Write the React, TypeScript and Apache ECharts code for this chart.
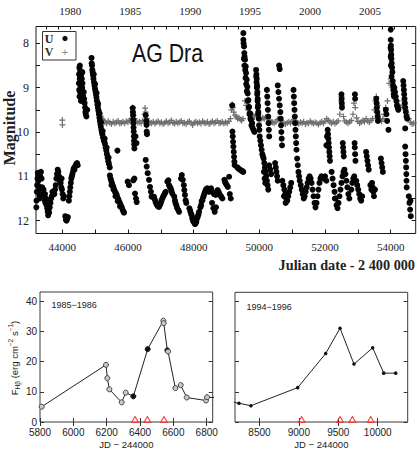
import { useEffect, useRef } from "react";
import * as echarts from "echarts";

// ---------- AG Dra light curve (Julian date - 2 400 000, magnitude) ----------

// U band, quiescence 1977-1980
const uQuiescence7780: number[][] = [
  [43210, 11.7], [43215, 11.55], [43225, 11.35], [43235, 11.2], [43245, 11.05], [43255, 10.92], [43265, 10.98],
  [43275, 11.1], [43285, 11.22], [43295, 11.3], [43305, 11.42], [43315, 11.5], [43330, 11.0], [43350, 10.9],
  [43370, 11.05], [43390, 11.25], [43405, 11.4], [43430, 11.3], [43450, 11.45], [43470, 11.55], [43475, 11.4],
  [43490, 11.6], [43505, 11.5], [43520, 11.65], [43530, 11.58], [43540, 11.72], [43555, 11.8], [43570, 11.88],
  [43585, 11.75], [43600, 11.82], [43620, 11.7], [43640, 11.6], [43660, 11.5], [43680, 11.45], [43700, 11.35],
  [43760, 11.4], [43780, 11.3], [43800, 11.2], [43820, 11.05], [43840, 10.95], [43860, 10.85], [43880, 10.9],
  [43900, 11.0], [43920, 11.1], [43950, 11.15], [43970, 11.25], [43980, 11.05], [43990, 11.3], [44010, 11.4],
  [44030, 11.5], [44050, 11.45], [44090, 11.9], [44110, 11.98], [44130, 12.0], [44150, 11.95], [44170, 11.92],
  [44200, 11.55], [44215, 11.45], [44230, 11.35], [44245, 11.25], [44260, 11.15], [44275, 11.05], [44290, 11.0],
  [44310, 10.95], [44330, 10.88], [44350, 10.82], [44370, 10.85], [44390, 10.78], [44410, 10.75], [44430, 10.72],
  [44450, 10.7], [44470, 10.75],
];

// U band, outbursts 1980-1981 and decline
const uOutbursts8081: number[][] = [
  [44505, 8.9], [44510, 8.7], [44515, 9.05], [44520, 8.55], [44525, 9.2], [44530, 8.8], [44535, 8.5],
  [44540, 9.1], [44545, 8.62], [44550, 8.95], [44555, 8.75], [44560, 9.2], [44565, 8.85], [44570, 9.3],
  [44575, 8.95], [44580, 8.7], [44585, 9.05], [44590, 9.25], [44595, 8.8], [44605, 9.0], [44610, 8.65],
  [44615, 8.9], [44620, 9.15], [44625, 9.1], [44635, 9.2], [44645, 9.3], [44655, 9.1], [44665, 9.25],
  [44680, 9.35], [44695, 9.45], [44705, 9.55], [44715, 9.6], [44725, 9.5], [44735, 9.65], [44760, 9.5],
  [44890, 8.33], [44895, 8.45], [44905, 8.5], [44915, 8.6], [44925, 8.65], [44935, 8.72], [44950, 8.8],
  [44960, 8.7], [44965, 8.88], [44980, 8.95], [44995, 9.02], [45000, 8.92], [45010, 9.08], [45025, 9.15],
  [45040, 9.22], [45045, 9.12], [45055, 9.3], [45070, 9.38], [45085, 9.45], [45090, 9.36], [45100, 9.52],
  [45115, 9.6], [45130, 9.68], [45135, 9.58], [45145, 9.75], [45160, 9.82], [45175, 9.88], [45180, 9.78],
  [45190, 9.95], [45205, 10.0], [45220, 10.05], [45230, 9.98], [45240, 10.12], [45260, 10.18], [45280, 10.22],
  [45290, 10.15], [45300, 10.27], [45320, 10.35], [45340, 10.42], [45350, 10.35], [45360, 10.5], [45380, 10.58],
  [45400, 10.66], [45410, 10.58], [45420, 10.72], [45445, 10.8], [45680, 10.42],
];

// U band, 1983-1987 (decline, 1985 and 1986 outbursts)
const uEpisode8387: number[][] = [
  [45450, 10.98], [45470, 11.05], [45490, 11.1], [45500, 11.2], [45510, 11.15], [45530, 11.2], [45555, 11.24],
  [45560, 11.3], [45580, 11.3], [45605, 11.35], [45620, 11.45], [45630, 11.38], [45657, 11.42], [45680, 11.48],
  [45690, 11.56], [45705, 11.52], [45730, 11.57], [45758, 11.61], [45760, 11.68], [45785, 11.66], [45810, 11.7],
  [45840, 11.76], [45865, 11.8], [45880, 11.82], [45990, 11.12], [46030, 11.2], [46163, 11.09], [46195, 11.05],
  [46215, 11.39], [46245, 11.5], [46265, 11.58],
  [46145, 9.46], [46150, 9.55], [46155, 9.62], [46160, 9.72], [46163, 9.8], [46170, 9.9], [46175, 9.99],
  [46180, 10.1], [46185, 10.2], [46190, 10.28], [46195, 10.37], [46230, 10.1], [46260, 10.25],
  [46540, 9.62], [46555, 9.75], [46565, 9.84], [46570, 9.99], [46580, 10.05],
  [46540, 10.63], [46570, 10.78], [46600, 10.93], [46640, 11.08], [46670, 11.24], [46700, 11.35], [46720, 11.46],
];

// U band, quiescence 1987-1993
const uQuiescence8793: number[][] = [
  [46790, 11.46], [46815, 11.52], [46840, 11.58], [46865, 11.62], [46890, 11.65], [46915, 11.68], [46945, 11.69],
  [46970, 11.65], [46995, 11.61], [47020, 11.55], [47045, 11.5], [47070, 11.46], [47100, 11.42], [47125, 11.38],
  [47150, 11.35], [47200, 11.12], [47230, 11.09], [47250, 11.2], [47275, 11.24], [47300, 11.27], [47325, 11.33],
  [47350, 11.39], [47410, 11.46], [47430, 11.55], [47450, 11.61], [47475, 11.66], [47500, 11.72], [47530, 11.76],
  [47555, 11.8], [47615, 11.05], [47640, 10.97], [47670, 11.08], [47700, 11.2], [47715, 11.31], [47735, 11.42],
  [47755, 11.54], [47775, 11.6], [47870, 11.72], [47895, 11.78], [47920, 11.84], [47940, 11.88], [47960, 11.95],
  [47980, 12.0], [48000, 12.03], [48020, 11.97], [48040, 12.08], [48060, 12.06], [48080, 12.03], [48100, 11.96],
  [48125, 11.91], [48145, 11.86], [48165, 11.8], [48205, 11.7], [48225, 11.65], [48245, 11.56], [48265, 11.54],
  [48290, 11.47], [48315, 11.42], [48340, 11.36], [48365, 11.31], [48390, 11.28], [48415, 11.27], [48440, 11.3],
  [48465, 11.35], [48530, 11.27], [48560, 11.6], [48570, 11.35], [48600, 11.72], [48620, 11.4], [48640, 11.8],
  [48670, 11.42], [48680, 11.7], [48730, 11.31], [48765, 11.36], [48800, 11.42], [48840, 11.46], [48875, 11.5],
  [48935, 11.08], [48955, 11.12], [48975, 11.16], [49010, 11.2], [49040, 11.24], [49080, 11.01], [49100, 11.4],
  [49130, 11.5],
  [49175, 9.4], [49180, 9.99], [49190, 10.1], [49200, 10.22], [49210, 10.33], [49220, 10.45], [49230, 10.56],
  [49240, 10.67], [49250, 10.75], [49330, 10.8], [49360, 10.82], [49390, 10.84], [49425, 10.86], [49460, 10.87],
  [49490, 10.89], [49510, 10.9],
];

// U band, active phase 1994-1998
const uActive9498: number[][] = [
  [49513, 7.77], [49513, 7.92], [49520, 8.0], [49533, 8.07], [49543, 8.22], [49530, 8.35], [49550, 8.3],
  [49564, 8.37], [49545, 8.5], [49570, 8.6], [49585, 8.52], [49595, 8.67], [49580, 8.78], [49615, 8.82],
  [49600, 8.92], [49634, 8.98], [49620, 9.08], [49645, 9.13], [49650, 9.3], [49665, 9.28], [49675, 9.45],
  [49686, 9.43], [49700, 9.6], [49716, 9.58], [49730, 9.7], [49747, 9.73], [49760, 9.85], [49780, 9.8],
  [49790, 9.9], [49820, 9.95], [49850, 10.0],
  [49900, 8.6], [49905, 8.75], [49910, 8.7], [49915, 8.88], [49920, 8.8], [49925, 9.0], [49930, 8.95],
  [49935, 9.15], [49940, 9.1], [49945, 9.3], [49950, 9.25], [49955, 9.45], [49960, 9.4], [49965, 9.6],
  [49970, 9.55], [49980, 9.7], [49990, 9.85], [50000, 9.95], [50010, 10.1], [50030, 10.2], [50050, 10.3],
  [50070, 10.4], [50090, 10.5], [50110, 10.55],
  [50230, 9.05], [50240, 9.2], [50250, 9.35], [50260, 9.5], [50270, 9.65], [50280, 9.8], [50290, 9.95], [50300, 10.1],
  [50130, 10.6], [50150, 10.7], [50170, 10.8], [50190, 10.9], [50210, 11.0], [50230, 11.1], [50250, 11.2],
  [50270, 11.3], [50140, 10.9], [50160, 11.05], [50180, 11.15], [50300, 10.75], [50330, 10.85], [50360, 10.95],
  [50600, 8.5], [50620, 8.58], [50560, 8.95], [50580, 9.1], [50600, 9.25], [50620, 9.4], [50640, 9.55],
  [50650, 9.7], [50660, 9.85], [50670, 10.0], [50680, 10.15], [50690, 10.3], [50480, 10.7], [50500, 10.8],
  [50520, 10.9], [50540, 11.0], [50560, 11.1],
  [51040, 9.05], [51050, 9.2], [51060, 9.35], [51070, 9.5], [51080, 9.65], [51090, 9.8], [51100, 9.95],
  [51110, 10.1], [51120, 10.25], [51130, 10.4],
];

// U band, 1997-2006 low states and minor outbursts
const uLate9706: number[][] = [
  [50700, 11.1], [50730, 11.2], [50750, 11.45], [50760, 11.3], [50790, 11.4], [50800, 11.6], [50820, 11.5],
  [50850, 11.55], [50880, 11.45], [50910, 11.35], [50940, 11.25], [50970, 11.15], [51150, 10.6], [51170, 10.75],
  [51190, 10.9], [51210, 11.0], [51230, 11.1], [51260, 11.2], [51290, 11.3], [51320, 11.4], [51350, 11.5],
  [51380, 11.45], [51410, 11.35], [51440, 11.25], [51470, 11.15], [51500, 11.05], [51530, 11.0], [51560, 11.05],
  [51590, 11.15], [51620, 11.3], [51650, 11.45], [51680, 11.6], [51710, 11.7], [51740, 11.6], [51770, 11.45],
  [51800, 11.3], [51830, 11.15], [51860, 11.05], [51890, 11.0], [51960, 11.05], [52000, 11.0], [52040, 11.1],
  [52040, 10.3], [52060, 10.1], [52080, 9.95], [52090, 10.05], [52100, 10.15], [52110, 10.25], [52120, 10.35],
  [52130, 10.45], [52140, 10.55], [52150, 10.65],
  [52200, 10.9], [52230, 11.05], [52260, 11.2], [52290, 11.35], [52300, 11.5], [52320, 11.5], [52350, 11.65],
  [52380, 11.72], [52410, 11.6], [52440, 11.45], [52470, 11.3], [52500, 11.15], [52530, 11.0], [52560, 10.9],
  [52590, 10.85], [52620, 10.95], [52650, 11.1], [52680, 11.25], [52710, 11.4], [52740, 11.5],
  [52500, 9.15], [52505, 9.25], [52510, 9.35], [52515, 9.45], [52540, 10.25], [52550, 10.35], [52560, 10.45],
  [52570, 10.55], [52910, 9.15], [52915, 9.25], [52900, 10.25], [52905, 10.35], [52915, 10.5], [52925, 10.65],
  [52800, 11.3], [52830, 11.15], [52860, 11.05], [52890, 11.0], [52950, 11.1], [52980, 11.2], [53010, 11.3],
  [53040, 11.4], [53070, 11.5], [53100, 11.55], [53130, 11.45],
  [53250, 10.45], [53270, 10.55], [53290, 10.65], [53310, 10.75], [53330, 10.85], [53380, 11.2], [53410, 11.3],
  [53430, 11.15], [53450, 11.25], [53470, 11.35], [53490, 11.45], [53520, 11.3],
  [53560, 9.25], [53570, 9.35], [53580, 9.45], [53590, 9.55], [53600, 9.65], [53610, 9.75], [53700, 10.6],
  [53720, 10.7], [53740, 10.8], [53760, 10.9], [53850, 9.5], [53870, 9.6], [53890, 9.75], [53930, 9.95],
];

// U band, 2006 outburst
const uOutburst06: number[][] = [
  [54000, 7.69], [54000, 7.92], [53995, 8.1], [54005, 8.05], [54010, 8.15], [54000, 8.3], [54015, 8.25],
  [54020, 8.35], [54005, 8.5], [54030, 8.45], [54040, 8.55], [54025, 8.75], [54050, 8.65], [54060, 8.85],
  [54070, 8.95], [54080, 9.05], [54090, 9.15], [54100, 9.2], [54110, 9.0], [54130, 9.1], [54150, 9.2],
  [54170, 9.3], [54190, 9.4], [54210, 9.45], [54230, 9.5], [54380, 8.85], [54390, 8.95], [54400, 9.05],
  [54410, 9.15], [54420, 9.25], [54430, 9.35], [54440, 9.45], [54460, 9.55], [54480, 9.65], [54500, 9.7],
  [54440, 9.92], [54440, 10.33], [54450, 10.5], [54460, 10.65], [54470, 10.8], [54475, 10.95], [54480, 11.1],
  [54485, 11.25], [54550, 11.45], [54570, 11.6], [54590, 11.75], [54610, 11.9], [54600, 11.55],
];

// V band
const vBand: number[][] = [
  [44000, 9.73], [44005, 9.84], [45050, 9.3], [45080, 9.4], [45110, 9.5], [45140, 9.58], [45170, 9.64],
  [45200, 9.69], [45230, 9.72], [45260, 9.75], [45300, 9.78], [45350, 9.8], [45400, 9.76], [45450, 9.79],
  [45500, 9.82], [45550, 9.77], [45600, 9.8], [45650, 9.78], [45700, 9.75], [45750, 9.81], [45800, 9.79],
  [45850, 9.77], [45900, 9.8], [45950, 9.76], [46000, 9.78], [46050, 9.74], [46100, 9.7], [46140, 9.45],
  [46150, 9.55], [46170, 9.62], [46200, 9.7], [46250, 9.76], [46300, 9.79], [46350, 9.77], [46400, 9.8],
  [46450, 9.74], [46500, 9.6], [46520, 9.46], [46540, 9.55], [46580, 9.7], [46620, 9.76], [46670, 9.79],
  [46720, 9.8], [46770, 9.77], [46820, 9.81], [46870, 9.78], [46920, 9.76], [46970, 9.8], [47020, 9.78],
  [47070, 9.82], [47120, 9.79], [47170, 9.76], [47220, 9.8], [47270, 9.78], [47320, 9.74], [47370, 9.79],
  [47420, 9.81], [47470, 9.77], [47520, 9.8], [47570, 9.78], [47620, 9.75], [47670, 9.8], [47720, 9.79],
  [47770, 9.82], [47820, 9.78], [47870, 9.76], [47920, 9.8], [47970, 9.84], [48020, 9.79], [48070, 9.77],
  [48120, 9.8], [48170, 9.78], [48220, 9.81], [48270, 9.76], [48320, 9.79], [48370, 9.8], [48420, 9.77],
  [48470, 9.82], [48520, 9.79], [48570, 9.76], [48620, 9.8], [48670, 9.78], [48720, 9.75], [48770, 9.8],
  [48820, 9.79], [48870, 9.77], [48920, 9.81], [48970, 9.78], [49020, 9.8], [49070, 9.76], [49120, 9.7],
  [49150, 9.5], [49170, 9.38], [49190, 9.45], [49220, 9.55], [49260, 9.62], [49300, 9.66], [49340, 9.7],
  [49380, 9.68], [49420, 9.72], [49460, 9.74], [49500, 9.7], [49560, 9.3], [49600, 9.4], [49650, 9.5],
  [49700, 9.55], [49750, 9.6], [49800, 9.62], [49850, 9.66], [49900, 9.6], [49950, 9.65], [50000, 9.7],
  [50050, 9.72], [50100, 9.68], [50150, 9.7], [50200, 9.66], [50250, 9.7], [50300, 9.74], [50350, 9.76],
  [50400, 9.78], [50450, 9.8], [50500, 9.77], [50550, 9.72], [50600, 9.7], [50650, 9.74], [50700, 9.78],
  [50750, 9.8], [50800, 9.82], [50850, 9.79], [50900, 9.77], [50950, 9.8], [51000, 9.76], [51050, 9.72],
  [51100, 9.75], [51150, 9.79], [51200, 9.81], [51250, 9.78], [51300, 9.8], [51350, 9.77], [51400, 9.82],
  [51450, 9.79], [51500, 9.8], [51550, 9.76], [51600, 9.79], [51650, 9.81], [51700, 9.78], [51750, 9.8],
  [51800, 9.83], [51850, 9.79], [51900, 9.77], [51950, 9.8], [52000, 9.76], [52050, 9.7], [52100, 9.74],
  [52150, 9.78], [52200, 9.8], [52250, 9.77], [52300, 9.81], [52350, 9.78], [52400, 9.75], [52450, 9.6],
  [52490, 9.3], [52500, 9.2], [52520, 9.4], [52560, 9.65], [52600, 9.75], [52650, 9.78], [52700, 9.8],
  [52750, 9.77], [52800, 9.74], [52850, 9.6], [52880, 9.35], [52920, 9.45], [52960, 9.68], [53000, 9.76],
  [53050, 9.8], [53100, 9.78], [53150, 9.74], [53200, 9.77], [53250, 9.7], [53300, 9.75], [53350, 9.78],
  [53400, 9.74], [53450, 9.7], [53500, 9.5], [53530, 9.3], [53560, 9.2], [53600, 9.4], [53640, 9.6],
  [53680, 9.72], [53720, 9.76], [53760, 9.7], [53800, 9.6], [53850, 9.45], [53900, 9.3], [53950, 8.9],
  [54000, 8.8], [54050, 9.0], [54100, 9.1], [54150, 9.2], [54200, 9.3], [54250, 9.4], [54300, 9.45],
  [54350, 9.4], [54400, 9.3], [54450, 9.5], [54500, 9.6], [54550, 9.7], [54600, 9.78], [54650, 9.82],
  [54700, 9.8],
];

// Top-axis calendar years and the Julian dates (- 2 400 000) of their 1 January
const yearNumbers = [1978, 1979, 1980, 1981, 1982, 1983, 1984, 1985, 1986, 1987, 1988, 1989, 1990, 1991, 1992,
  1993, 1994, 1995, 1996, 1997, 1998, 1999, 2000, 2001, 2002, 2003, 2004, 2005, 2006, 2007, 2008];
const yearStartJD = [43509.5, 43874.5, 44239.5, 44605.5, 44970.5, 45335.5, 45700.5, 46066.5, 46431.5, 46796.5,
  47161.5, 47527.5, 47892.5, 48257.5, 48622.5, 48988.5, 49353.5, 49718.5, 50083.5, 50449.5, 50814.5, 51179.5,
  51544.5, 51910.5, 52275.5, 52640.5, 53005.5, 53371.5, 53736.5, 54101.5, 54466.5];
const labeledYears = [1980, 1985, 1990, 1995, 2000, 2005];
const jdTicks = [44000, 45000, 46000, 47000, 48000, 49000, 50000, 51000, 52000, 53000, 54000];
const jdLabels = [44000, 46000, 48000, 50000, 52000, 54000];
const magTicks = [8, 8.5, 9, 9.5, 10, 10.5, 11, 11.5, 12];
const magLabels = [8, 9, 10, 11, 12];

// ---------- H-beta flux panels (JD - 244000, 1e-12 erg cm^-2 s^-1) ----------
const hbEarlyJD = [5810, 6196, 6204, 6216, 6290, 6314, 6360, 6446, 6540, 6542, 6564, 6568, 6612, 6644, 6680, 6796, 6802, 6850];
const hbEarlyFlux = [5.05, 18.9, 14.5, 10.8, 6.5, 9.7, 8.5, 24.1, 33.5, 32.7, 23.7, 23.3, 11.2, 12.2, 8.1, 7.1, 8.2, 8.1];
const hbEarlySolid = [0, 0, 0, 0, 0, 0, 1, 1, 0, 0, 1, 0, 0, 0, 0, 0, 0, 0];
const hbEarlySpectraJD = [6370, 6444, 6544];
const hbEarlyTicks = [5800, 6000, 6200, 6400, 6600, 6800];

const hbLateJD = [8170, 8240, 8392, 8985, 9340, 9522, 9699, 9936, 10076, 10228];
const hbLateFlux = [6.6, 6.2, 5.4, 11.4, 22.7, 31.1, 19.2, 24.6, 16.2, 16.2];
const hbLateSpectraJD = [9035, 9522, 9678, 9911];
const hbLateTicks = [8500, 9000, 9500, 10000];
const fluxTicks = [0, 10, 20, 30, 40];

const SERIF = '"Liberation Serif", "DejaVu Serif", serif';
const SANS = '"Liberation Sans", Arial, sans-serif';
const PLUS = "path://M4,0H6V4H10V6H6V10H4V6H0V4H4Z";

const plain = (v: number) => String(v);

function buildOption(): echarts.EChartsCoreOption {
  const uBand = [
    ...uQuiescence7780, ...uOutbursts8081, ...uEpisode8387, ...uQuiescence8793,
    ...uActive9498, ...uLate9706, ...uOutburst06,
  ];

  const panelTick = (values: number[]) => ({
    inside: true, length: 4, customValues: values, lineStyle: { color: "#333", width: 1 },
  });
  const noLine = { show: false };
  const noSplit = { show: false };

  const earlyData = hbEarlyJD.map((jd, i) => ({
    value: [jd, hbEarlyFlux[i]],
    itemStyle: hbEarlySolid[i]
      ? { color: "#111", borderColor: "#111", borderWidth: 1, opacity: 1 }
      : { color: "#c8c8c8", borderColor: "#444", borderWidth: 1, opacity: 1 },
  }));
  const lateData = hbLateJD.map((jd, i) => [jd, hbLateFlux[i]]);
  const triangleStyle = {
    symbol: "triangle", symbolSize: [7, 6], symbolOffset: [0, -2.5],
    itemStyle: { color: "rgba(255,255,255,0)", borderColor: "#e8403a", borderWidth: 1, opacity: 1 },
  };

  return {
    animation: false,
    backgroundColor: "#fff",
    grid: [
      { left: 36, top: 26.5, width: 379.7, height: 207, show: true, borderColor: "#1a1a1a", borderWidth: 1 },
      { left: 40, top: 292, width: 172.7, height: 135.7, show: true, borderColor: "#3a3a3a", borderWidth: 1 },
      { left: 235, top: 292.3, width: 172.7, height: 135.4, show: true, borderColor: "#3a3a3a", borderWidth: 1 },
    ],
    xAxis: [
      {
        gridIndex: 0, type: "value", position: "bottom", min: 43200, max: 54760,
        axisLine: noLine, splitLine: noSplit,
        axisTick: { inside: true, length: 4, customValues: jdTicks, lineStyle: { color: "#1a1a1a" } },
        axisLabel: { customValues: jdLabels, formatter: plain, margin: 8, fontSize: 11, fontFamily: SERIF, color: "#222" },
      },
      {
        gridIndex: 0, type: "value", position: "top", min: 43200, max: 54760,
        axisLine: noLine, splitLine: noSplit,
        axisTick: { inside: true, length: 3, customValues: yearStartJD, lineStyle: { color: "#1a1a1a" } },
        axisLabel: {
          customValues: labeledYears.map((y) => yearStartJD[yearNumbers.indexOf(y)]),
          formatter: (v: number) => String(yearNumbers[yearStartJD.indexOf(v)]),
          margin: 10, fontSize: 11, fontFamily: SERIF, color: "#222",
        },
      },
      {
        gridIndex: 1, type: "value", position: "bottom", min: 5800, max: 6836,
        axisLine: noLine, splitLine: noSplit, axisTick: panelTick(hbEarlyTicks),
        axisLabel: { customValues: hbEarlyTicks, formatter: plain, margin: 5, fontSize: 10, fontFamily: SANS, color: "#222" },
        name: "JD − 244000", nameLocation: "middle", nameGap: 17,
        nameTextStyle: { fontSize: 9.5, fontFamily: SANS, color: "#222" },
      },
      {
        gridIndex: 1, type: "value", position: "top", min: 5800, max: 6836,
        axisLine: noLine, splitLine: noSplit, axisTick: panelTick(hbEarlyTicks), axisLabel: { show: false },
      },
      {
        gridIndex: 2, type: "value", position: "bottom", min: 8190, max: 10380,
        axisLine: noLine, splitLine: noSplit, axisTick: panelTick(hbLateTicks),
        axisLabel: { customValues: hbLateTicks, formatter: plain, margin: 5, fontSize: 10, fontFamily: SANS, color: "#222" },
        name: "JD − 244000", nameLocation: "middle", nameGap: 17,
        nameTextStyle: { fontSize: 9.5, fontFamily: SANS, color: "#222" },
      },
      {
        gridIndex: 2, type: "value", position: "top", min: 8190, max: 10380,
        axisLine: noLine, splitLine: noSplit, axisTick: panelTick(hbLateTicks), axisLabel: { show: false },
      },
    ],
    yAxis: [
      {
        gridIndex: 0, type: "value", position: "left", inverse: true, min: 7.62, max: 12.29,
        axisLine: noLine, splitLine: noSplit,
        axisTick: { inside: true, length: 4, customValues: magTicks, lineStyle: { color: "#1a1a1a" } },
        axisLabel: { customValues: magLabels, formatter: plain, margin: 7, fontSize: 12, fontFamily: SERIF, color: "#222" },
      },
      {
        gridIndex: 0, type: "value", position: "right", inverse: true, min: 7.62, max: 12.29,
        axisLine: noLine, splitLine: noSplit,
        axisTick: { inside: true, length: 4, customValues: magTicks, lineStyle: { color: "#1a1a1a" } },
        axisLabel: { show: false },
      },
      {
        gridIndex: 1, type: "value", position: "left", min: 0, max: 43,
        axisLine: noLine, splitLine: noSplit, axisTick: panelTick(fluxTicks),
        axisLabel: { customValues: fluxTicks, formatter: plain, margin: 3, fontSize: 10, fontFamily: SANS, color: "#222" },
      },
      {
        gridIndex: 1, type: "value", position: "right", min: 0, max: 43,
        axisLine: noLine, splitLine: noSplit, axisTick: panelTick(fluxTicks), axisLabel: { show: false },
      },
      {
        gridIndex: 2, type: "value", position: "left", min: 0, max: 43,
        axisLine: noLine, splitLine: noSplit, axisTick: panelTick(fluxTicks), axisLabel: { show: false },
      },
      {
        gridIndex: 2, type: "value", position: "right", min: 0, max: 43,
        axisLine: noLine, splitLine: noSplit, axisTick: panelTick(fluxTicks), axisLabel: { show: false },
      },
    ],
    series: [
      {
        name: "V", type: "scatter", xAxisIndex: 0, yAxisIndex: 0, data: vBand,
        symbol: PLUS, symbolSize: 6, itemStyle: { color: "#6e6e6e", opacity: 1 }, silent: true,
      },
      {
        name: "U", type: "scatter", xAxisIndex: 0, yAxisIndex: 0, data: uBand,
        symbol: "circle", symbolSize: 6, itemStyle: { color: "#050505", opacity: 1 }, silent: true,
      },
      {
        name: "Hβ 1985-1986", type: "line", xAxisIndex: 2, yAxisIndex: 2, data: earlyData,
        symbol: "circle", symbolSize: 5, showAllSymbol: true, silent: true,
        lineStyle: { color: "#222", width: 1 },
      },
      { name: "spectra 1985-1986", type: "scatter", xAxisIndex: 2, yAxisIndex: 2,
        data: hbEarlySpectraJD.map((jd) => [jd, 0]), silent: true, ...triangleStyle },
      {
        name: "Hβ 1994-1996", type: "line", xAxisIndex: 4, yAxisIndex: 4, data: lateData,
        symbol: "circle", symbolSize: 3.5, showAllSymbol: true, silent: true,
        lineStyle: { color: "#222", width: 1 }, itemStyle: { color: "#111", opacity: 1 },
      },
      { name: "spectra 1994-1996", type: "scatter", xAxisIndex: 4, yAxisIndex: 4,
        data: hbLateSpectraJD.map((jd) => [jd, 0]), silent: true, ...triangleStyle },
    ],
    graphic: [
      {
        type: "text", x: 9.5, y: 128, rotation: Math.PI / 2,
        style: { text: "Magnitude", fontSize: 16, fontWeight: "bold", fontFamily: SERIF, fill: "#222", align: "center", verticalAlign: "middle" },
      },
      {
        type: "text", x: 132, y: 52.5, scaleX: 0.82,
        style: { text: "AG Dra", fontSize: 26, fontFamily: SANS, fill: "#111", align: "left", verticalAlign: "middle" },
      },
      {
        type: "text", x: 415, y: 264.5, scaleX: 0.95,
        style: { text: "Julian date - 2 400 000", fontSize: 15, fontWeight: "bold", fontFamily: SERIF, fill: "#222", align: "right", verticalAlign: "middle" },
      },
      {
        type: "rect", shape: { x: 42.5, y: 31.5, width: 33.5, height: 28.5 },
        style: { fill: "#fff", stroke: "#333", lineWidth: 1 },
      },
      {
        type: "text", x: 49, y: 38.5,
        style: { text: "U", fontSize: 12, fontWeight: "bold", fontFamily: SERIF, fill: "#222", align: "center", verticalAlign: "middle" },
      },
      { type: "circle", shape: { cx: 65, cy: 38.5, r: 2.7 }, style: { fill: "#111" } },
      {
        type: "text", x: 49, y: 52,
        style: { text: "V", fontSize: 12, fontWeight: "bold", fontFamily: SERIF, fill: "#333", align: "center", verticalAlign: "middle" },
      },
      {
        type: "text", x: 65, y: 52,
        style: { text: "+", fontSize: 11, fontFamily: SANS, fill: "#888", align: "center", verticalAlign: "middle" },
      },
      {
        type: "text", x: 51.5, y: 305,
        style: { text: "1985−1986", fontSize: 9, fontFamily: SANS, fill: "#222", align: "left", verticalAlign: "middle" },
      },
      {
        type: "text", x: 246.5, y: 306.5,
        style: { text: "1994−1996", fontSize: 9, fontFamily: SANS, fill: "#222", align: "left", verticalAlign: "middle" },
      },
      {
        type: "text", x: 14, y: 358, rotation: Math.PI / 2,
        style: {
          text: "{n|F}{sub|Hβ}{n| (erg cm}{sup|−2}{n| s}{sup|−1}{n|)}",
          align: "center", verticalAlign: "middle", fill: "#222",
          rich: {
            n: { fontSize: 9.5, fontFamily: SANS, fill: "#222", lineHeight: 14, verticalAlign: "middle" },
            sub: { fontSize: 6.5, fontFamily: SANS, fill: "#222", verticalAlign: "bottom" },
            sup: { fontSize: 6.5, fontFamily: SANS, fill: "#222", verticalAlign: "top" },
          },
        },
      },
    ],
  };
}

export default function App() {
  const ref = useRef<HTMLDivElement>(null);
  useEffect(() => {
    if (!ref.current) return;
    const chart = echarts.init(ref.current, null, { renderer: "svg" });
    chart.setOption(buildOption());
    return () => chart.dispose();
  }, []);
  return (
    <div
      ref={ref}
      style={{ position: "fixed", left: 0, top: 0, width: 420, height: 450, background: "#fff" }}
    />
  );
}
